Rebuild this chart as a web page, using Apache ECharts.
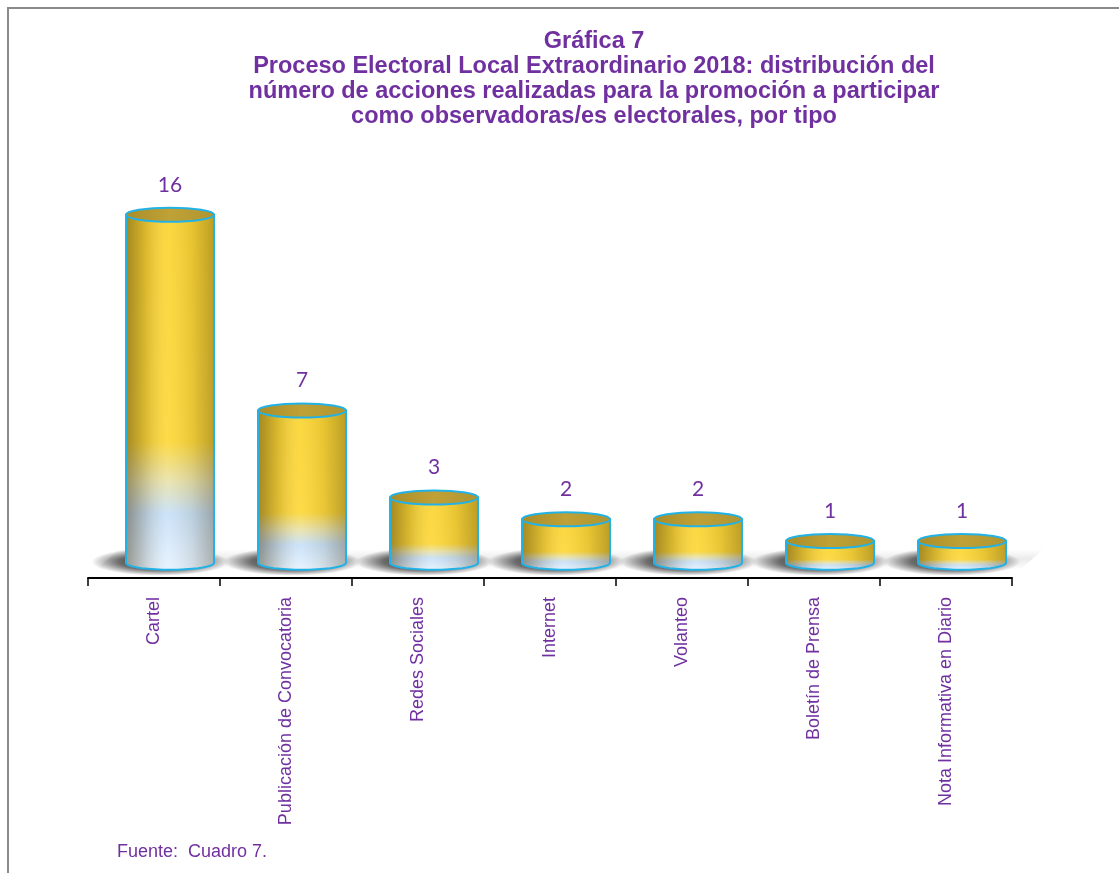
<!DOCTYPE html>
<html>
<head>
<meta charset="utf-8">
<script src="https://cdn.jsdelivr.net/npm/echarts@6/dist/echarts.min.js"></script>
<style>
  html, body { margin: 0; padding: 0; background: #fff; }
  #wrap { position: relative; width: 1119px; height: 873px; overflow: hidden; }
  #frame { position: absolute; left: 7px; top: 7px; width: 1130px; height: 880px;
           border-left: 2px solid #8a8a8a; border-top: 2px solid #8a8a8a; }
  #chart { position: absolute; left: 0; top: 0; width: 1119px; height: 873px; }
</style>
</head>
<body>
<div id="wrap">
  <div id="frame"></div>
  <div id="chart"></div>
</div>
<script>
const titleLines = [
  'Gráfica 7',
  'Proceso Electoral Local Extraordinario 2018: distribución del',
  'número de acciones realizadas para la promoción a participar',
  'como observadoras/es electorales, por tipo'
];
const categories = ['Cartel', 'Publicación de Convocatoria', 'Redes Sociales', 'Internet',
  'Volanteo', 'Boletín de Prensa', 'Nota Informativa en Diario'];
const values = [16, 7, 3, 2, 2, 1, 1];
const sourceNote = 'Fuente:  Cuadro 7.';

const purple = '#7030a0';
const seriesData = values.map((v, i) => [i, v]);

// sombra del piso y manchas oscuras bajo cada cilindro
function renderShadow(params, api) {
  const i = api.value(0);
  const base = api.coord([i, 0]);
  const catW = api.size([1, 0])[0];
  const cx = base[0] + 16;
  const yb = base[1];
  const L = base[0] - catW / 2, R = base[0] + catW / 2;
  return {
    type: 'group',
    children: [
      {
        type: 'polygon',
        shape: { points: [[L + 32, yb - 14], [R + 32, yb - 14], [R + 8, yb + 7], [L + 8, yb + 7]] },
        style: {
          fill: { type: 'linear', x: 0, y: 0, x2: 0, y2: 1, colorStops: [
            { offset: 0, color: 'rgba(0,0,0,0)' },
            { offset: 0.5, color: 'rgba(0,0,0,0.08)' },
            { offset: 1, color: 'rgba(0,0,0,0)' }
          ] }
        }
      },
      {
        type: 'circle',
        shape: { cx: cx - 10, cy: yb - 1, r: 14 },
        originX: cx - 10, originY: yb - 1,
        scaleX: 4.9,
        style: {
          fill: { type: 'radial', x: 0.5, y: 0.5, r: 0.5, colorStops: [
            { offset: 0, color: 'rgba(0,0,0,0.85)' },
            { offset: 0.6, color: 'rgba(0,0,0,0.55)' },
            { offset: 1, color: 'rgba(0,0,0,0)' }
          ] }
        }
      }
    ]
  };
}

// cilindro 3D: cuerpo, sombreado lateral, tapa y etiqueta
function renderCylinder(params, api) {
  const i = api.value(0), v = api.value(1);
  const base = api.coord([i, 0]);
  const top = api.coord([i, v]);
  const cx = base[0] + 16;
  const rx = 44, ry = 7;
  const yb = base[1], yt = top[1];
  const pts = [[cx - rx, yt], [cx - rx, yb]];
  const n = 36;
  for (let k = 0; k <= n; k++) {
    const t = Math.PI - Math.PI * k / n;
    pts.push([cx + rx * Math.cos(t), yb + ry * Math.sin(t)]);
  }
  pts.push([cx + rx, yt]);
  return {
    type: 'group',
    children: [
      {
        type: 'polygon',
        shape: { points: pts },
        style: {
          fill: { type: 'linear', x: 0, y: 0, x2: 0, y2: 1, colorStops: [
            { offset: 0, color: '#fbd535' },
            { offset: 0.64, color: '#fdd83c' },
            { offset: 0.75, color: '#e9e3ad' },
            { offset: 0.84, color: '#c9e1f7' },
            { offset: 1, color: '#e6f3ff' }
          ] }
        }
      },
      {
        type: 'polygon',
        shape: { points: pts },
        style: {
          fill: { type: 'linear', x: 0, y: 0, x2: 1, y2: 0, colorStops: [
            { offset: 0, color: 'rgba(50,35,0,0.45)' },
            { offset: 0.22, color: 'rgba(50,35,0,0.18)' },
            { offset: 0.48, color: 'rgba(255,255,255,0.06)' },
            { offset: 0.75, color: 'rgba(50,35,0,0.10)' },
            { offset: 1, color: 'rgba(50,35,0,0.32)' }
          ] },
          stroke: '#22b2e6',
          lineWidth: 2
        }
      },
      {
        type: 'ellipse',
        shape: { cx: cx, cy: yt, rx: rx, ry: ry },
        style: {
          fill: { type: 'linear', x: 0, y: 0, x2: 1, y2: 0, colorStops: [
            { offset: 0, color: '#a98d28' },
            { offset: 0.5, color: '#bfa136' },
            { offset: 1, color: '#b0952f' }
          ] },
          stroke: '#22b2e6',
          lineWidth: 2
        }
      },
      {
        type: 'text',
        x: cx, y: yt - 30,
        style: {
          text: String(v),
          fill: purple,
          font: '21px Lato',
          align: 'center',
          verticalAlign: 'middle'
        }
      }
    ]
  };
}

const chart = echarts.init(document.getElementById('chart'));
chart.setOption({
  animation: false,
  title: {
    text: titleLines.join('\n'),
    left: 594,
    top: 29,
    padding: 0,
    textAlign: 'center',
    textStyle: {
      color: purple,
      fontSize: 23.5,
      fontWeight: 'bold',
      fontFamily: 'Liberation Sans',
      lineHeight: 25
    }
  },
  grid: { left: 88, right: 107, top: 193, bottom: 295 },
  xAxis: {
    type: 'category',
    data: categories,
    boundaryGap: true,
    axisLine: { show: true, onZero: false, lineStyle: { color: '#000', width: 2 } },
    axisTick: { show: true, length: 8, lineStyle: { color: '#000', width: 1.5 } },
    axisLabel: {
      rotate: 90,
      interval: 0,
      margin: 19,
      color: purple,
      fontSize: 18,
      fontFamily: 'Liberation Sans'
    }
  },
  yAxis: { type: 'value', min: -0.7, max: 17, show: false },
  graphic: [
    {
      type: 'text',
      left: 117,
      top: 843,
      style: { text: sourceNote, fill: purple, font: '18px "Liberation Sans"' }
    }
  ],
  series: [
    { type: 'custom', z: 1, data: seriesData, renderItem: renderShadow, silent: true },
    { type: 'custom', z: 2, data: seriesData, renderItem: renderCylinder }
  ]
});
</script>
</body>
</html>
